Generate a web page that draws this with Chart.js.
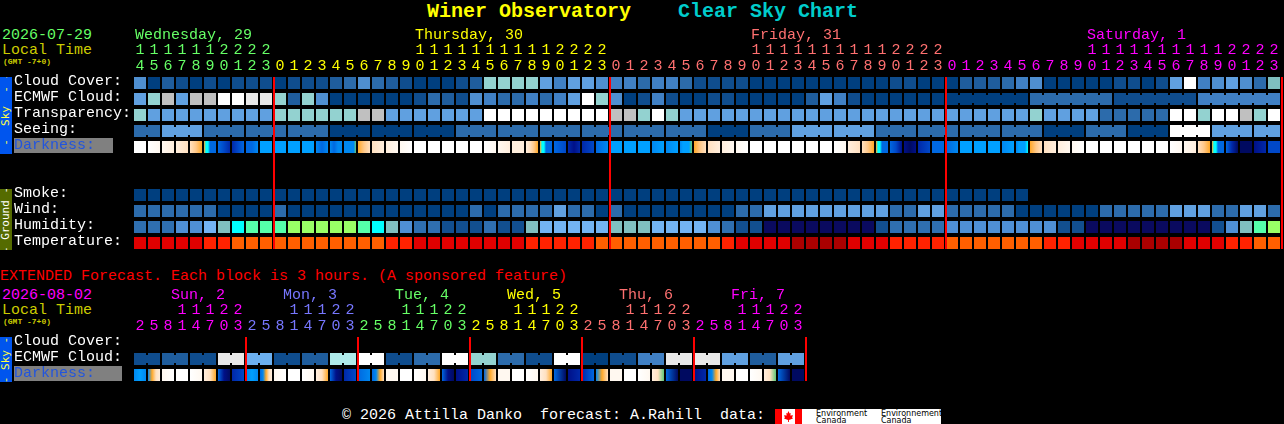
<!DOCTYPE html>
<html>
<head>
<meta charset="utf-8">
<title>Clear Sky Chart</title>
<script src="https://cdn.jsdelivr.net/npm/chart.js@4/dist/chart.umd.min.js"></script>
<style>
    html, body { margin: 0; padding: 0; background: #000; width: 1284px; height: 424px; overflow: hidden; }
    canvas { position: absolute; left: 0; }
    .txt { position: absolute; font: 15px/16px "Liberation Mono", monospace; white-space: pre; }
    .title { font: bold 20px/22px "Liberation Mono", monospace; }
    .gmt { font: bold 8px/10px "Liberation Mono", monospace; color: #cccc00; }
    .strip { position: absolute; left: 0; width: 12px; overflow: hidden; }
    .strip span { position: absolute; left: 6px; top: 50%; transform: translate(-50%, -50%) rotate(-90deg);
        font: 11px/12px "DejaVu Sans Mono", monospace; white-space: pre; }
    .grey { position: absolute; left: 14px; background: #808080; }
    #logo { position: absolute; left: 775px; top: 409px; width: 166px; height: 15px; background: #fff; overflow: hidden; }
    #logo i { position: absolute; top: 0; height: 15px; width: 7px; background: #f00; }
    #logo b { position: absolute; font: 8px/7px "DejaVu Sans", sans-serif; color: #000; white-space: pre; top: 1px; }
    #leaf { position: absolute; left: 784px; top: 411px; width: 9px; height: 11px; background: #f00;
        clip-path: polygon(50% 0, 62% 22%, 75% 18%, 70% 42%, 100% 38%, 90% 60%, 100% 68%, 55% 82%, 55% 100%, 45% 100%, 45% 82%, 0 68%, 10% 60%, 0 38%, 30% 42%, 25% 18%, 38% 22%); }
</style>
</head>
<body>
<div class="txt title" style="left:427px;top:1px;color:#ffff00">Winer Observatory</div>
<div class="txt title" style="left:678px;top:1px;color:#00cccc">Clear Sky Chart</div>

<div class="txt" style="left:2px;top:28px;color:#66ff66">2026-07-29</div>
<div class="txt" style="left:2px;top:43px;color:#cccc00">Local Time</div>
<div class="txt gmt" style="left:3px;top:57px">(GMT -7+0)</div>
<div class="strip" style="top:77px;height:77px;background:#0055ee"><span style="color:#ffff44">- -  Sky  - -</span></div>
<div class="strip" style="top:189px;height:61px;background:#556b00"><span style="color:#ffffff">- Ground -</span></div>
<div class="grey" style="top:138px;width:99px;height:15px"></div>

<div class="txt" style="left:0;top:269px;color:#ff0000">EXTENDED Forecast. Each block is 3 hours. (A sponsored feature)</div>
<div class="txt" style="left:2px;top:288px;color:#ff00ff">2026-08-02</div>
<div class="txt" style="left:2px;top:303px;color:#cccc00">Local Time</div>
<div class="txt gmt" style="left:3px;top:317px">(GMT -7+0)</div>
<div class="strip" style="top:337px;height:45px;background:#0055ee"><span style="color:#ffff44">- Sky -</span></div>
<div class="grey" style="top:366px;width:108px;height:15px"></div>

<canvas id="mainChart" width="1284" height="258" style="top:0"></canvas>
<canvas id="extChart" width="820" height="110" style="top:280px"></canvas>

<div class="txt" style="left:342px;top:408px;color:#ffffff">© 2026 Attilla Danko  forecast: A.Rahill  data:</div>
<div id="logo">
    <i style="left:0"></i><i style="left:20px"></i>
    <b style="left:41px">Environment
Canada</b><b style="left:106px">Environnement
Canada</b>
</div>
<div id="leaf"></div>

<script>
// main forecast, one column per hour
const hourLabels = [14,15,16,17,18,19,20,21,22,23,
    0,1,2,3,4,5,6,7,8,9,10,11,12,13,14,15,16,17,18,19,20,21,22,23,
    0,1,2,3,4,5,6,7,8,9,10,11,12,13,14,15,16,17,18,19,20,21,22,23,
    0,1,2,3,4,5,6,7,8,9,10,11,12,13,14,15,16,17,18,19,20,21,22,23];
const dayNames = ["Wednesday, 29", "Thursday, 30", "Friday, 31", "Saturday, 1"];
const dayFirstHour = [0, 10, 34, 58];
const dayNameHour = [0, 20, 44, 68];
const dayColors = ["#66ff66", "#ffff00", "#ff7070", "#ff00ff"];
const mainRowLabels = ["Cloud Cover:", "ECMWF Cloud:", "Transparency:", "Seeing:", "Darkness:", "", "",
    "Smoke:", "Wind:", "Humidity:", "Temperature:"];

const cloudCover = [5,0,2,1,0,1,0,1,1,1,0,1,1,1,2,3,5,3,2,1,0,0,0,1,2,7,7,7,7,6,4,6,6,5,
    4,4,3,4,4,3,1,1,1,1,0,0,0,0,0,0,0,0,0,0,1,1,0,0,0,2,2,2,3,4,5,0,0,0,0,0,1,1,0,1,6,10,4,5,6,5,3,11];
const ecmwfCloud = [6,7,8,6,8,8,10,10,9,9,7,2,7,5,0,0,0,0,0,0,1,3,2,1,5,4,3,3,4,3,4,6,10,7,
    5,0,1,4,1,0,0,1,1,0,0,0,0,0,2,6,4,1,0,0,0,0,0,0, 0,3,1,4];
const ecmwfSpans = [1,1,1,1,1,1,1,1,1,1,1,1,1,1,1,1,1,1,1,1,1,1,1,1,1,1,1,1,1,1,1,1,1,1,
    1,1,1,1,1,1,1,1,1,1,1,1,1,1,1,1,1,1,1,1,1,1,1,1, 6,6,6,6];
const transparency = [7,6,6,6,6,6,6,6,6,6,7,7,7,7,7,7,8,8,6,6,6,6,6,6,6,10,10,10,10,10,10,10,10,10,
    8,8,7,10,7,6,6,6,6,6,6,6,6,6,6,6,6,6,6,6,6,6,6,6,6,6,6,6,6,6,7,6,6,6,6,3,3,3,3,3,10,10,7,10,10,8,7,10];
const seeing = [3,6,3,3,3,0,0,0,3,3,3,3,3,3,0,3,6,6,3,3,3,3,0,3,0,10,6,6];
const seeingSpans = [2,3,3,3,3,3,3,3,3,3,3,3,3,3,3,3,3,3,3,3,3,3,3,3,3,3,3,2];
const darkness = [[0],[0,1],[1,2],[2,3],[3,4,5],[5,6,6,9,9,9,9],[9,10,11],[11,10,9],[9,9,8],[7],
    [7],[7],[7],[8,9,8],[8,9,8,8],[8,8,8,8,8,14],[5,4,3],[3,2],[2,1],[1,0],[0],[0],[0],[0],[0],[0,1],[1,2],[2],[2,3,4,5],
    [5,6,6,9,9,9,9],[9,10],[11,12,11],[11,10],[9,8],[7],[7],[7],[8,7],[8,7],[8,7,7,7,14],[5,4,3],[3,2],[2,1],[1,0],
    [0],[0],[0],[0],[0],[0],[0,1],[2,3],[3,4,5],[5,6,6,9,9,9,9],[9,10,12],[12,13,12],[11,10],[9],[9,8],[7],[7],[7],[8,7],
    [8,7,7,7,6],[5,4,3],[3,2],[2,1],[1,0],[0],[0],[0],[0],[0],[0],[0,1],[1,2],[3,4,5],[5,6,6,9,9,9,9],[9,11,13],[13],[12,11],[10]];
const smoke = [0,0,0,0,0,0,0,0,0,0,0,0,0,0,0,0,0,0,0,0,0,0,0,0,0,0,0,0,0,0,0,0,
    0,0,0,0,0,0,0,0,0,0,0,0,0,0,0,0,0,0,0,0,0,0,0,0,0,0,0,0,0,0,0,0];
const wind = [3,3,3,3,3,3,0,0,0,0,3,0,0,0,0,0,0,0,0,0,0,0,0,0,3,0,3,3,3,3,6,3,3,0,
    3,0,0,0,0,0,0,0,0,3,3,6,6,6,6,6,6,6,6,6,3,3,6,6,3,3,3,3,3,0,0,0,0,0,0,3,3,3,3,3,6,6,6,3,3,6,6,3];
const humidity = [2,2,2,3,3,4,5,6,7,7,7,8,8,8,8,8,7,6,5,3,2,2,1,1,1,2,1,1,5,4,4,4,4,4,
    5,5,5,4,4,4,4,3,2,1,1,0,0,0,0,0,0,0,0,1,2,2,2,2,3,3,3,3,3,3,3,3,1,1,0,0,0,0,0,0,0,0,0,1,3,5,7,8];
const temperature = [1,1,1,1,1,2,2,3,3,3,3,3,3,3,3,3,3,3,2,2,1,1,1,1,1,1,1,1,2,2,2,2,2,3,
    3,3,3,3,3,3,3,3,2,1,1,1,1,0,0,0,0,1,1,1,2,2,2,2,3,3,3,3,3,3,3,2,2,1,1,1,1,0,0,0,0,1,1,1,2,2,3,3];

// extended forecast, 48 columns
const extLabels = [2,5,8,11,14,17,20,23,2,5,8,11,14,17,20,23,2,5,8,11,14,17,20,23,
    2,5,8,11,14,17,20,23,2,5,8,11,14,17,20,23,2,5,8,11,14,17,20,23];
const extDayNames = ["Sun, 2", "Mon, 3", "Tue, 4", "Wed, 5", "Thu, 6", "Fri, 7"];
const extDayFirst = [0, 8, 16, 24, 32, 40];
const extDayColors = ["#ff00ff", "#7777ff", "#66ff66", "#ffff00", "#ff7070", "#ff00ff"];
const extRowLabels = ["Cloud Cover:", "ECMWF Cloud:", "Darkness:"];
const extCloud = [1,2,1,9,12,1,2,13,10,1,3,10,7,3,1,10,0,1,4,9,9,6,2,6];
const extSpans = [2,2,2,2,2,2,2,2,2,2,2,2,2,2,2,2,2,2,2,2,2,2,2,2];
const extDarkness = [[8,7,8],[8,5,3,2],[1,0],[0],[0,1],[2,3,5],[9,12,13],[11,10],
    [8,7,8],[9,8,5,3,2],[1,0],[0],[0,1],[2,3,5],[9,12,13],[11,10],
    [9,8],[9,8,5,3],[1],[0],[0,1],[2,3,5],[9,12,13],[12,11],
    [10,9],[9,5,3],[1],[0],[0,1],[2,3,5],[9,13],[12,11],
    [11,9],[8,5,3],[1],[0],[0,1],[2,3,14],[9,13],[13],
    [12,11],[9,8,5,3],[1],[0],[0,1],[2,3,14],[9,13],[13]];

// colour keys
const skyColors = ["#003f7f","#0f4d8e","#1f5d9d","#2c6bab","#4080c4","#4f8fd0","#60a0e0",
    "#93d2d0","#c0c0c0","#e8e8e8","#ffffff","#7fbfbf","#6cb0f0","#aeeaea"];
const humidityColors = ["#0a0a5f","#124f8f","#2f6fb0","#4f8fd4","#73b3f3","#80bfbf","#00ffff","#55ffaa","#99ff66"];
const temperatureColors = ["#aa0000","#e00000","#ff2200","#ff5f00"];
const darknessColors = ["#ffffff","#fff8f0","#ffeedd","#ffe0c0","#ffc888","#ffa828","#00ffff",
    "#00a0ff","#0088f0","#0068e0","#0048c8","#0028a8","#001088","#000a60","#60c878"];

const ROW = 0.75;       // part of a row the block fills

function colorOf(dayStarts, colors, i) {
    let c = colors[0];
    dayStarts.forEach((s, k) => { if (i >= s) c = colors[k]; });
    return c;
}

function cellRow(values, colors, r) {
    return {
        data: values.map((v, i) => ({ x: i, y: [r, r + ROW] })),
        backgroundColor: values.map(v => colors[v]),
        barThickness: 12
    };
}

// blocks that span several columns: cells plus a narrower link over each gap
function blockRows(values, spans, colors, r) {
    const cells = [], links = [], cellColors = [], linkColors = [];
    let col = 0;
    values.forEach((v, k) => {
        for (let n = 0; n < spans[k]; n++) {
            cells.push({ x: col, y: [r, r + ROW] });
            cellColors.push(colors[v]);
            if (n < spans[k] - 1) {
                links.push({ x: col + 0.5, y: [r + 0.125, r + ROW - 0.125] });
                linkColors.push(colors[v]);
            }
            col++;
        }
    });
    return [
        { data: cells, backgroundColor: cellColors, barThickness: 12 },
        { data: links, backgroundColor: linkColors, barThickness: 2 }
    ];
}

function gradientRow(values, r) {
    return {
        data: values.map((v, i) => ({ x: i, y: [r, r + ROW] })),
        barThickness: 12,
        backgroundColor(ctx) {
            const stops = values[ctx.dataIndex];
            if (!stops) return "#000";
            const left = ctx.chart.scales.x ? ctx.chart.scales.x.getPixelForValue(ctx.dataIndex) - 6 : NaN;
            if (stops.length === 1 || !isFinite(left)) return darknessColors[stops[0]];
            const g = ctx.chart.ctx.createLinearGradient(left, 0, left + 12, 0);
            stops.forEach((s, k) => g.addColorStop(k / (stops.length - 1), darknessColors[s]));
            return g;
        }
    };
}

const dayEdges = {
    id: "dayEdges",
    afterDatasetsDraw(chart, args, opts) {
        const xs = chart.scales.x, ctx = chart.ctx;
        ctx.save();
        ctx.fillStyle = "#ff0000";
        opts.columns.forEach(c => {
            const x = xs.getPixelForValue(c - 0.5 + 1 / 14);
            ctx.fillRect(x - 1, chart.chartArea.top, 2, chart.chartArea.bottom - chart.chartArea.top);
        });
        ctx.restore();
    }
};

function drawChart(id, hours, firstOfDay, colors, rowLabels, datasets, edges, axisHeight) {
    return new Chart(document.getElementById(id), {
        type: "bar",
        data: { datasets: datasets },
        plugins: [dayEdges],
        options: {
            responsive: false,
            animation: false,
            devicePixelRatio: 1,
            layout: { padding: { left: 14, right: 0, top: 0, bottom: 0 } },
            plugins: { legend: { display: false }, tooltip: { enabled: false }, dayEdges: { columns: edges } },
            datasets: { bar: { grouped: false, inflateAmount: 0, borderWidth: 0 } },
            scales: {
                x: {
                    type: "linear", position: "top", offset: false,
                    min: -0.5, max: (document.getElementById(id).width - 133) / 14 - 0.5,
                    grid: { display: false, drawTicks: false }, border: { display: false },
                    afterFit(s) { s.height = axisHeight; },
                    afterBuildTicks(s) { s.ticks = hours.map((h, i) => ({ value: i })); },
                    ticks: {
                        autoSkip: false, maxRotation: 0, minRotation: 0, padding: 3,
                        font: { family: "Liberation Mono", size: 15, lineHeight: "16px" },
                        color: ctx => colorOf(firstOfDay, colors, ctx.index),
                        callback(v, i) {
                            const h = hours[i];
                            return h >= 10 ? [String(Math.floor(h / 10)), String(h % 10)] : ["", String(h)];
                        }
                    }
                },
                y: {
                    type: "linear", reverse: true, position: "left",
                    min: 0, max: rowLabels.length - 1 + ROW,
                    grid: { display: false, drawTicks: false }, border: { display: false },
                    afterFit(s) { s.width = 119; },
                    afterBuildTicks(s) {
                        s.ticks = rowLabels.map((l, r) => ({ value: r + 0.25 }));
                    },
                    ticks: {
                        autoSkip: false, crossAlign: "far", padding: 0,
                        font: { family: "Liberation Mono", size: 15 },
                        color: ctx => rowLabels[ctx.index] === "Darkness:" ? "#2255dd" : "#ffffff",
                        callback: (v, i) => rowLabels[i]
                    }
                }
            }
        }
    });
}

const mainSets = [
    cellRow(cloudCover, skyColors, 0),
    ...blockRows(ecmwfCloud, ecmwfSpans, skyColors, 1),
    cellRow(transparency, skyColors, 2),
    ...blockRows(seeing, seeingSpans, skyColors, 3),
    gradientRow(darkness, 4),
    cellRow(smoke, skyColors, 7),
    cellRow(wind, skyColors, 8),
    cellRow(humidity, humidityColors, 9),
    cellRow(temperature, temperatureColors, 10)
];
const mainChart = drawChart("mainChart", hourLabels, dayFirstHour, dayColors, mainRowLabels, mainSets,
    [10, 34, 58, 82], 77);

const extSets = [
    ...blockRows(extCloud, extSpans, skyColors, 1),
    gradientRow(extDarkness, 2)
];
const extChart = drawChart("extChart", extLabels, extDayFirst, extDayColors, extRowLabels, extSets,
    [8, 16, 24, 32, 40, 48], 57);

function dayLabel(text, chart, col, top, color) {
    const d = document.createElement("div");
    d.className = "txt";
    d.textContent = text;
    d.style.left = Math.round(chart.scales.x.getPixelForValue(col)) - 5 + "px";
    d.style.top = top + "px";
    d.style.color = color;
    document.body.appendChild(d);
}
dayNames.forEach((n, k) => dayLabel(n, mainChart, dayNameHour[k], 28, dayColors[k]));
extDayNames.forEach((n, k) => dayLabel(n, extChart, extDayFirst[k] + 2.57, 288, extDayColors[k]));
</script>
</body>
</html>
